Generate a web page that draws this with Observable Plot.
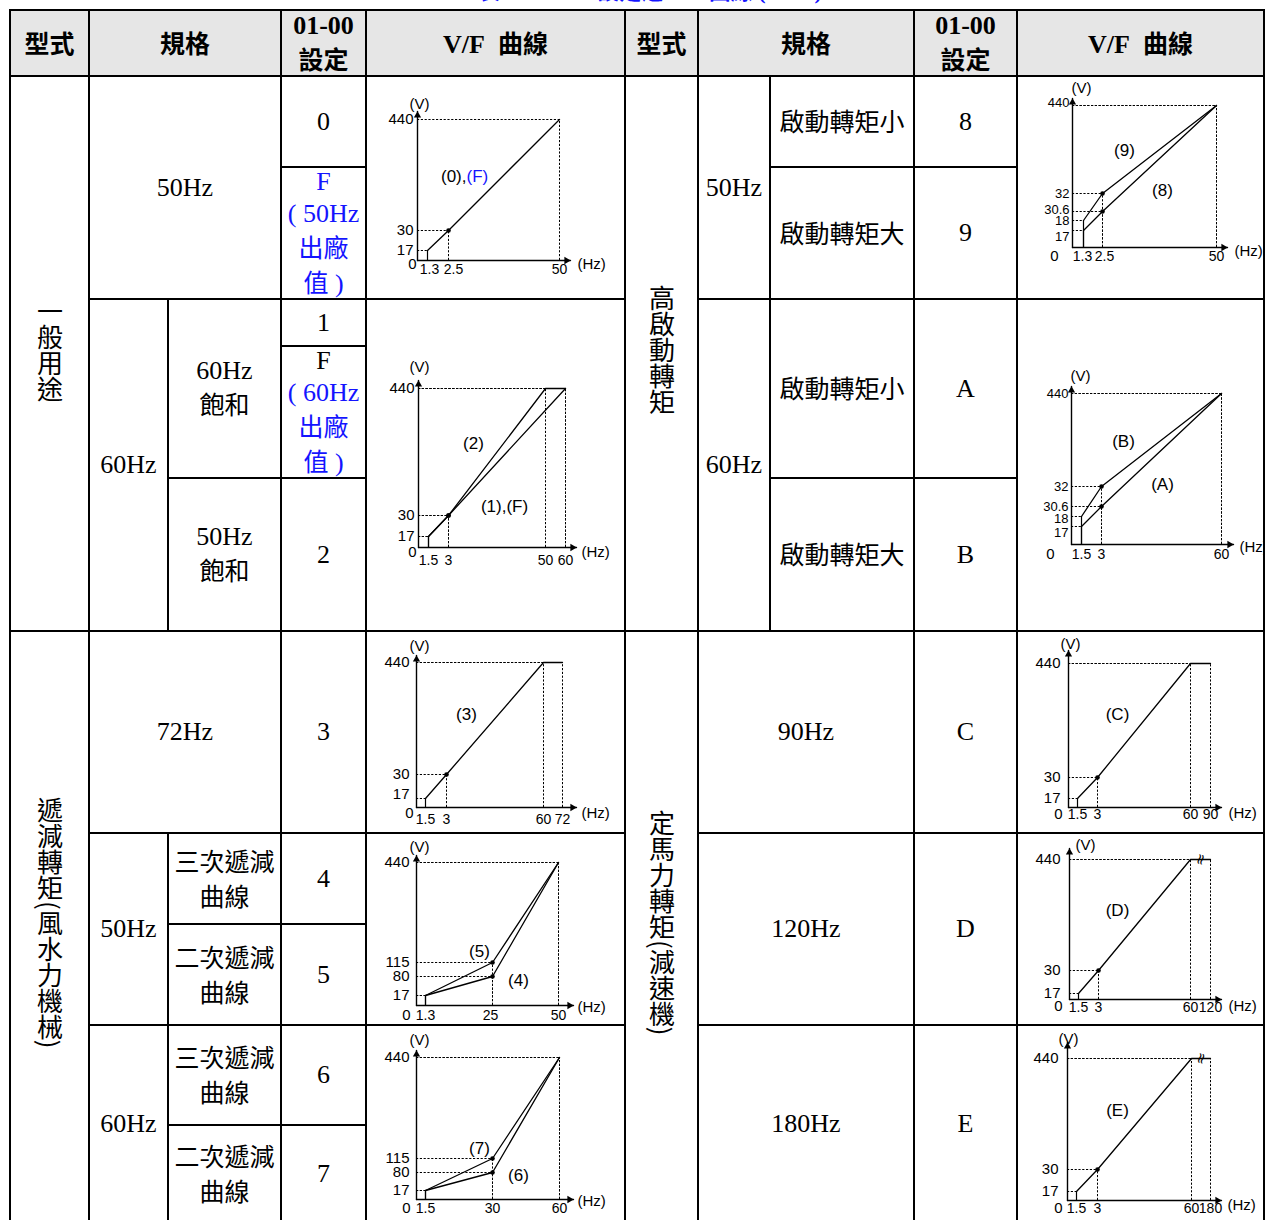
<!DOCTYPE html>
<html><head><meta charset="utf-8">
<script src="https://cdn.jsdelivr.net/npm/d3@7"></script>
<script src="https://cdn.jsdelivr.net/npm/@observablehq/plot@0.6"></script>
<style>
html,body{margin:0;padding:0;background:#fff;}
#page{position:relative;width:1265px;height:1220px;overflow:hidden;background:#fff;}
.cell{position:absolute;box-sizing:border-box;border:2px solid #000;display:flex;align-items:center;justify-content:center;text-align:center;
 font-family:"Liberation Serif","Noto Sans CJK TC",serif;font-size:26px;line-height:32px;color:#000;white-space:nowrap;}
.hd{background:#e6e6e6;font-weight:bold;}
.hd .cj{font-family:"Noto Sans CJK TC",sans-serif;font-weight:bold;font-size:25px;}
.cj{font-family:"Noto Sans CJK TC",sans-serif;font-size:25px;}
.vt{writing-mode:vertical-rl;font-family:"Noto Sans CJK TC",sans-serif;font-size:26px;line-height:26px;}
.blue{color:#1414ff;}
.chart{position:absolute;overflow:visible;}
#title{position:absolute;left:380px;width:540px;top:-19px;text-align:center;font:bold 22px "Liberation Serif","Noto Sans CJK TC",serif;color:#1414ff;line-height:22px;white-space:nowrap;}
</style></head>
<body><div id="page"><div id="title">表 4-3 01-00 設定之 V/F 曲線 (440V)</div></div>
<script>
// ---------- data ----------
// chart (0),(F) : 50Hz
const ticksHz_0F = [1.3, 2.5, 50];
const ticksV_0F = [17, 30, 440];
const hz_0F = [1.3, 2.5, 50];
const v_0F = [17, 30, 440];
// chart (1),(F),(2) : 60Hz
const ticksHz_12 = [1.5, 3, 50, 60];
const ticksV_12 = [17, 30, 440];
const hz_1 = [1.5, 3, 60];
const v_1 = [17, 30, 440];
const hz_2 = [1.5, 3, 50, 60];
const v_2 = [17, 30, 440, 440];
// chart (8),(9)
const ticksHz_89 = [1.3, 2.5, 50];
const ticksV_89 = [17, 18, 30.6, 32, 440];
const hz_8 = [1.3, 2.5, 50];
const v_8 = [17, 30.6, 440];
const hz_9 = [1.3, 2.5, 50];
const v_9 = [18, 32, 440];
// chart (A),(B)
const ticksHz_AB = [1.5, 3, 60];
const ticksV_AB = [17, 18, 30.6, 32, 440];
const hz_A = [1.5, 3, 60];
const v_A = [17, 30.6, 440];
const hz_B = [1.5, 3, 60];
const v_B = [18, 32, 440];
// chart (3) : 72Hz
const ticksHz_3 = [1.5, 3, 60, 72];
const ticksV_3 = [17, 30, 440];
const hz_3 = [1.5, 3, 60, 72];
const v_3 = [17, 30, 440, 440];
// chart (C) : 90Hz
const ticksHz_C = [1.5, 3, 60, 90];
const ticksV_C = [17, 30, 440];
const hz_C = [1.5, 3, 60, 90];
const v_C = [17, 30, 440, 440];
// chart (4),(5)
const ticksHz_45 = [1.3, 25, 50];
const ticksV_45 = [17, 80, 115, 440];
const hz_4 = [1.3, 25, 50];
const v_4 = [17, 80, 440];
const hz_5 = [1.3, 25, 50];
const v_5 = [17, 115, 440];
// chart (D) : 120Hz
const ticksHz_D = [1.5, 3, 60, 120];
const ticksV_D = [17, 30, 440];
const hz_D = [1.5, 3, 60, 120];
const v_D = [17, 30, 440, 440];
// chart (6),(7)
const ticksHz_67 = [1.5, 30, 60];
const ticksV_67 = [17, 80, 115, 440];
const hz_6 = [1.5, 30, 60];
const v_6 = [17, 80, 440];
const hz_7 = [1.5, 30, 60];
const v_7 = [17, 115, 440];
// chart (E) : 180Hz
const ticksHz_E = [1.5, 3, 60, 180];
const ticksV_E = [17, 30, 440];
const hz_E = [1.5, 3, 60, 180];
const v_E = [17, 30, 440, 440];

// ---------- table layout ----------
const page = document.getElementById("page");
const cells = [
  // header
  [10,10,89,76,'<span class="cj">型式</span>','hd'],
  [89,10,281,76,'<span class="cj">規格</span>','hd'],
  [281,10,366,76,'01-00<br><span class="cj">設定</span>','hd'],
  [366,10,625,76,'V/F&nbsp;&nbsp;<span class="cj">曲線</span>','hd'],
  [625,10,698,76,'<span class="cj">型式</span>','hd'],
  [698,10,914,76,'<span class="cj">規格</span>','hd'],
  [914,10,1017,76,'01-00<br><span class="cj">設定</span>','hd'],
  [1017,10,1264,76,'V/F&nbsp;&nbsp;<span class="cj">曲線</span>','hd'],
  // left half
  [10,76,89,631,'<span class="vt">一般用途</span>'],
  [10,631,89,1222,'<span class="vt">遞減轉矩(風水力機械)</span>'],
  [89,76,281,299,'50Hz'],
  [281,76,366,167,'0'],
  [281,167,366,299,'<span class="blue">F<br>( 50Hz<br><span class="cj">出廠</span><br><span class="cj">值</span> )</span>'],
  [366,76,625,299,''],
  [89,299,168,631,'60Hz'],
  [168,299,281,478,'60Hz<br><span class="cj">飽和</span>'],
  [168,478,281,631,'50Hz<br><span class="cj">飽和</span>'],
  [281,299,366,346,'1'],
  [281,346,366,478,'F<br><span class="blue">( 60Hz<br><span class="cj">出廠</span><br><span class="cj">值</span> )</span>'],
  [281,478,366,631,'2'],
  [366,299,625,631,''],
  [89,631,281,833,'72Hz'],
  [281,631,366,833,'3'],
  [366,631,625,833,''],
  [89,833,168,1025,'50Hz'],
  [168,833,281,924,'<span class="cj">三次遞減<br>曲線</span>'],
  [168,924,281,1025,'<span class="cj">二次遞減<br>曲線</span>'],
  [281,833,366,924,'4'],
  [281,924,366,1025,'5'],
  [366,833,625,1025,''],
  [89,1025,168,1222,'60Hz'],
  [168,1025,281,1125,'<span class="cj">三次遞減<br>曲線</span>'],
  [168,1125,281,1222,'<span class="cj">二次遞減<br>曲線</span>'],
  [281,1025,366,1125,'6'],
  [281,1125,366,1222,'7'],
  [366,1025,625,1222,''],
  // right half
  [625,76,698,631,'<span class="vt">高啟動轉矩</span>'],
  [625,631,698,1222,'<span class="vt">定馬力轉矩(減速機)</span>'],
  [698,76,770,299,'50Hz'],
  [770,76,914,167,'<span class="cj">啟動轉矩小</span>'],
  [770,167,914,299,'<span class="cj">啟動轉矩大</span>'],
  [914,76,1017,167,'8'],
  [914,167,1017,299,'9'],
  [1017,76,1264,299,''],
  [698,299,770,631,'60Hz'],
  [770,299,914,478,'<span class="cj">啟動轉矩小</span>'],
  [770,478,914,631,'<span class="cj">啟動轉矩大</span>'],
  [914,299,1017,478,'A'],
  [914,478,1017,631,'B'],
  [1017,299,1264,631,''],
  [698,631,914,833,'90Hz'],
  [914,631,1017,833,'C'],
  [1017,631,1264,833,''],
  [698,833,914,1025,'120Hz'],
  [914,833,1017,1025,'D'],
  [1017,833,1264,1025,''],
  [698,1025,914,1222,'180Hz'],
  [914,1025,1017,1222,'E'],
  [1017,1025,1264,1222,'']
];
for (const [x0,y0,x1,y1,html,cls] of cells) {
  const d = document.createElement("div");
  d.className = "cell" + (cls ? " " + cls : "");
  d.style.left = (x0-1) + "px"; d.style.top = (y0-1) + "px";
  d.style.width = (x1-x0+2) + "px"; d.style.height = (y1-y0+2) + "px";
  d.innerHTML = "<div>" + html + "</div>";
  page.appendChild(d);
}

// ---------- charts ----------
const TF = "'Liberation Sans', Arial, sans-serif";
const charts = [
 {cell:[366,76,625,299], xTicks:ticksHz_0F, yTicks:ticksV_0F, curves:[{hz:hz_0F,v:v_0F}],
  xR:[51,61,82,193], yR:[184,174,154,43], xExt:11, yExt:8, vLab:[53,28], hzLab:[211,188],
  zero:[-5,4], xDy:9, yDx:-4, yFont:15, yShift:[], xShift:[[1.3,2],[2.5,5]],
  labels:[{t:"(0),",x:100,y:100,a:"end"},{t:"(F)",x:100,y:100,a:"start",c:"#1414ff"}]},
 {cell:[366,299,625,631], xTicks:ticksHz_12, yTicks:ticksV_12, curves:[{hz:hz_1,v:v_1},{hz:hz_2,v:v_2}],
  xR:[52,62,82,179,199], yR:[248,237,216,89], xExt:11, yExt:8, vLab:[53,68], hzLab:[215,253],
  zero:[-6,5], xDy:13, yDx:-4, yFont:15, yShift:[], xShift:[],
  labels:[{t:"(2)",x:107,y:144},{t:"(1),(F)",x:138,y:207}]},
 {cell:[1017,76,1264,299], xTicks:ticksHz_89, yTicks:ticksV_89, curves:[{hz:hz_8,v:v_8},{hz:hz_9,v:v_9}],
  xR:[55,66,85,199], yR:[171,154,144,135,117,29], xExt:11, yExt:7, vLab:[64,12], hzLab:[217,175],
  zero:[-18,9], xDy:9, yDx:-3, yFont:13, yShift:[[17,6],[440,-3],[30.6,-2]], xShift:[[1.3,-1],[2.5,2]],
  labels:[{t:"(9)",x:107,y:74},{t:"(8)",x:145,y:114}]},
 {cell:[1017,299,1264,631], xTicks:ticksHz_AB, yTicks:ticksV_AB, curves:[{hz:hz_A,v:v_A},{hz:hz_B,v:v_B}],
  xR:[54,64,84,204], yR:[245,227,217,207,187,94], xExt:12, yExt:7, vLab:[63,77], hzLab:[222,248],
  zero:[-21,10], xDy:10, yDx:-3, yFont:13, yShift:[[17,6],[18,2]], xShift:[],
  labels:[{t:"(B)",x:106,y:142},{t:"(A)",x:145,y:185}]},
 {cell:[366,631,625,833], xTicks:ticksHz_3, yTicks:ticksV_3, curves:[{hz:hz_3,v:v_3}],
  xR:[50,59,80,177,196], yR:[176,167,143,31], xExt:14, yExt:7, vLab:[53,15], hzLab:[215,182],
  zero:[-7,6], xDy:12, yDx:-7, yFont:15, yShift:[[17,-4]], xShift:[],
  labels:[{t:"(3)",x:100,y:83}]},
 {cell:[1017,631,1264,833], xTicks:ticksHz_C, yTicks:ticksV_C, curves:[{hz:hz_C,v:v_C}],
  xR:[51,60,80,173,193], yR:[176,167,146,32], xExt:11, yExt:13, vLab:[53,13], hzLab:[211,182],
  zero:[-10,7], xDy:7.5, yDx:-8, yFont:15, yShift:[], xShift:[],
  labels:[{t:"(C)",x:100,y:83}]},
 {cell:[366,833,625,1025], xTicks:ticksHz_45, yTicks:ticksV_45, curves:[{hz:hz_4,v:v_4},{hz:hz_5,v:v_5}],
  xR:[50,59,126,192], yR:[172,162,143,129,29], xExt:15, yExt:7, vLab:[53,14], hzLab:[211,174],
  zero:[-10,10], xDy:10, yDx:-7, yFont:15, yShift:[], xShift:[[25,-2]],
  labels:[{t:"(5)",x:113,y:118},{t:"(4)",x:152,y:147}]},
 {cell:[1017,833,1264,1025], xTicks:ticksHz_D, yTicks:ticksV_D, curves:[{hz:hz_D,v:v_D}],
  xR:[52,61,81,173,193], yR:[166,160,137,26], xExt:11, yExt:11, vLab:[68,12], hzLab:[211,173],
  zero:[-11,7], xDy:8, yDx:-9, yFont:15, yShift:[], xShift:[], brk:true,
  labels:[{t:"(D)",x:100,y:77}]},
 {cell:[366,1025,625,1222], xTicks:ticksHz_67, yTicks:ticksV_67, curves:[{hz:hz_6,v:v_6},{hz:hz_7,v:v_7}],
  xR:[50,59,126,193], yR:[174,165,147,133,32], xExt:14, yExt:7, vLab:[53,15], hzLab:[211,176],
  zero:[-10,9], xDy:9, yDx:-7, yFont:15, yShift:[], xShift:[],
  labels:[{t:"(7)",x:113,y:123},{t:"(6)",x:152,y:150}]},
 {cell:[1017,1025,1264,1222], xTicks:ticksHz_E, yTicks:ticksV_E, curves:[{hz:hz_E,v:v_E}],
  xR:[50,59,80,174,193], yR:[175,166,144,33], xExt:11, yExt:16, vLab:[51,14], hzLab:[210,180],
  zero:[-9,8], xDy:8, yDx:-9, yFont:15, yShift:[], xShift:[], brk:true,
  labels:[{t:"(E)",x:100,y:85}]}
];

function buildChart(c) {
  const [x0,y0,x1,y1] = c.cell;
  const w = x1-x0, h = y1-y0;
  const xDom = [0, ...c.xTicks], yDom = [0, ...c.yTicks];
  const sx = d3.scaleLinear(xDom, c.xR), sy = d3.scaleLinear(yDom, c.yR);
  const xMax = c.xTicks[c.xTicks.length-1], yMax = c.yTicks[c.yTicks.length-1];
  const xTip = sx.invert(sx(xMax) + c.xExt);
  const yTip = sy.invert(sy(yMax) - c.yExt);
  const series = c.curves.map(cv => cv.hz.map((hz,i) => ({hz, v: cv.v[i], i})));
  const pts = series.flat();
  const first = pts.filter(p => p.i === 0);
  const rest = pts.filter(p => p.i > 0);
  const mids = series.map(s => s[1]);
  const dash = {stroke:"#000", strokeWidth:1, strokeDasharray:"2.2,1.6"};
  const lookup = (list, v) => { const f = list.find(s => s[0] === v); return f ? f[1] : 0; };
  const yShifts = [...new Set(c.yTicks.map(v => lookup(c.yShift, v)))];
  const xShifts = [...new Set(c.xTicks.map(v => lookup(c.xShift, v)))];
  const marks = [
    Plot.ruleY(pts, {y:"v", x1:0, x2:"hz", ...dash}),
    Plot.ruleX(rest, {x:"hz", y1:0, y2:"v", ...dash}),
    Plot.ruleX(first, {x:"hz", y1:0, y2:"v", stroke:"#000", strokeWidth:1.2}),
    Plot.line([{hz:0,v:0},{hz:xTip,v:0}], {x:"hz", y:"v", stroke:"#000", strokeWidth:1.4}),
    Plot.line([{hz:0,v:0},{hz:0,v:yTip}], {x:"hz", y:"v", stroke:"#000", strokeWidth:1.4}),
    Plot.dot([{hz:xTip,v:0}], {x:"hz", y:"v", symbol:"triangle", r:2.7, fill:"#000", rotate:90, dx:-4}),
    Plot.dot([{hz:0,v:yTip}], {x:"hz", y:"v", symbol:"triangle", r:2.7, fill:"#000", dy:4}),
    ...series.map(s => Plot.line(s, {x:"hz", y:"v", stroke:"#000", strokeWidth:1.3})),
    Plot.dot(mids, {x:"hz", y:"v", r:2.3, fill:"#000"}),
    ...xShifts.map(sh => Plot.text(c.xTicks.filter(v => lookup(c.xShift, v) === sh),
       {x:d=>d, y:0, text:d=>String(d), dx:sh, dy:c.xDy, fontSize:14, fontFamily:TF, fill:"#000"})),
    ...yShifts.map(sh => Plot.text(c.yTicks.filter(v => lookup(c.yShift, v) === sh),
       {x:0, y:d=>d, text:d=>String(d), dx:c.yDx, dy:sh, textAnchor:"end", fontSize: c.yFont, fontFamily:TF, fill:"#000"})),
    Plot.text(["0"], {x:0, y:0, text:d=>d, dx:c.zero[0], dy:c.zero[1], fontSize:15, fontFamily:TF, fill:"#000"}),
    Plot.text(["(V)"], {frameAnchor:"top-left", text:d=>d, dx:c.vLab[0], dy:c.vLab[1], textAnchor:"middle", lineAnchor:"middle", fontSize:15, fontFamily:TF, fill:"#000"}),
    Plot.text(["(Hz)"], {frameAnchor:"top-left", text:d=>d, dx:c.hzLab[0], dy:c.hzLab[1], textAnchor:"start", lineAnchor:"middle", fontSize:15, fontFamily:TF, fill:"#000"}),
    ...c.labels.map(L => Plot.text([L.t], {frameAnchor:"top-left", text:d=>d, dx:L.x, dy:L.y, textAnchor:L.a || "middle", lineAnchor:"middle", fontSize:17, fontFamily:TF, fill:L.c || "#000"}))
  ];
  if (c.brk) {
    marks.push(Plot.text([{hz:(60+xMax)/2, v:yMax}], {x:"hz", y:"v", text:()=>"≈", rotate:-75, fontSize:15, fontFamily:"DejaVu Sans", fill:"#000"}));
  }
  const svg = Plot.plot({
    width:w, height:h, margin:0,
    x:{type:"linear", domain:xDom, range:c.xR, axis:null},
    y:{type:"linear", domain:yDom, range:c.yR, axis:null},
    style:{background:"transparent", overflow:"visible", fontFamily:TF},
    marks
  });
  const holder = document.createElement("div");
  holder.className = "chart";
  holder.style.left = x0 + "px"; holder.style.top = y0 + "px";
  holder.style.width = w + "px"; holder.style.height = h + "px";
  holder.appendChild(svg);
  page.appendChild(holder);
}
charts.forEach(buildChart);
</script>
</body></html>
